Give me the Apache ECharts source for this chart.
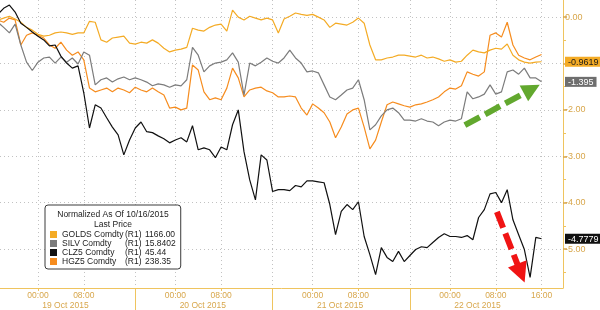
<!DOCTYPE html>
<html><head><meta charset="utf-8">
<script src="https://cdn.jsdelivr.net/npm/echarts@6/dist/echarts.min.js"></script>
<style>html,body{margin:0;padding:0;background:#fff}#c{width:600px;height:310px}</style>
</head><body><div id="c"></div>
<script>
// hours measured from 19 Oct 2015 00:00
const startHour = -7, endHour = 88;
const hours = [];
for (let h = startHour; h <= endHour; h++) hours.push(h);

const seriesNames = ['GOLDS Comdty', 'SILV Comdty', 'CLZ5 Comdty', 'HGZ5 Comdty'];
const lastPrices = ['1166.00', '15.8402', '45.44', '238.35'];

const gold = [-0.06,-0.02,0.02,-0.04,-0.11,-0.22,-0.28,-0.37,-0.41,-0.39,-0.34,-0.32,-0.34,-0.37,-0.34,-0.34,
 -0.09,-0.11,-0.49,-0.54,-0.45,-0.43,-0.41,-0.56,-0.58,-0.54,-0.56,-0.49,-0.56,-0.67,-0.75,-0.71,
 -0.69,-0.65,-0.24,-0.28,-0.30,-0.22,-0.17,-0.15,-0.30,0.15,0.00,-0.06,0.02,-0.02,-0.06,-0.02,
 -0.06,-0.34,-0.04,0.02,0.09,0.06,0.04,0.06,0.00,-0.06,-0.22,-0.13,-0.15,-0.17,-0.11,-0.02,
 -0.13,-0.60,-0.92,-0.92,-0.88,-0.86,-0.82,-0.82,-0.84,-0.86,-0.82,-0.88,-0.86,-0.90,-0.95,-0.92,
 -0.97,-0.95,-0.82,-0.71,-0.75,-0.77,-0.71,-0.67,-0.69,-0.58,-0.82,-0.92,-0.97,-0.99,-0.97,-0.9619];

const silver = [-0.11,-0.22,-0.34,-0.15,-0.60,-0.97,-1.15,-0.97,-0.88,-0.86,-0.99,-0.86,-0.97,-0.88,-1.01,-0.75,
 -0.82,-1.46,-1.35,-1.31,-1.40,-1.33,-1.29,-1.35,-1.31,-1.35,-1.40,-1.48,-1.44,-1.46,-1.51,-1.46,
 -1.48,-1.35,-0.65,-0.82,-1.18,-1.05,-0.99,-0.97,-0.92,-0.77,-0.97,-1.68,-0.99,-1.05,-0.97,-0.88,
 -0.95,-0.99,-0.88,-0.71,-0.88,-0.99,-1.18,-1.16,-1.20,-1.46,-1.72,-1.78,-1.68,-1.57,-1.53,-1.35,
 -1.78,-2.43,-2.32,-2.13,-2.00,-1.96,-2.06,-2.22,-2.22,-2.24,-2.19,-2.24,-2.26,-2.34,-2.26,-2.22,
 -2.24,-2.19,-1.61,-1.76,-1.72,-1.66,-1.46,-1.66,-1.61,-1.18,-1.14,-1.23,-1.10,-1.31,-1.31,-1.395];

const crude = [0.06,0.19,0.26,0.11,-0.13,-0.22,-0.32,-0.41,-0.49,-0.62,-0.60,-0.84,-0.99,-1.10,-1.05,-1.63,
 -2.39,-1.89,-1.96,-2.17,-2.37,-2.54,-2.97,-2.65,-2.39,-2.26,-2.47,-2.49,-2.56,-2.62,-2.71,-2.65,
 -2.60,-2.69,-2.34,-2.86,-2.82,-2.86,-3.03,-2.80,-2.86,-2.32,-2.00,-2.90,-3.51,-3.94,-2.97,-3.08,
 -3.76,-3.72,-3.72,-3.74,-3.63,-3.66,-3.53,-3.53,-3.55,-3.57,-4.04,-4.69,-4.19,-4.04,-4.15,-3.98,
 -4.73,-5.12,-5.55,-4.97,-5.18,-5.27,-5.05,-5.27,-5.14,-5.01,-4.95,-4.97,-4.86,-4.75,-4.67,-4.73,
 -4.73,-4.75,-4.71,-4.80,-4.32,-4.15,-3.81,-3.78,-4.00,-3.72,-4.37,-4.69,-5.01,-5.61,-4.75,-4.7779];

const copper = [-0.06,-0.11,-0.02,-0.06,-0.60,-0.39,-0.34,-0.39,-0.45,-0.60,-0.67,-0.54,-0.71,-0.82,-0.75,-0.92,
 -1.53,-1.61,-1.57,-1.53,-1.61,-1.53,-1.57,-1.63,-1.51,-1.57,-1.61,-1.53,-1.61,-1.68,-1.96,-1.94,
 -2.00,-1.96,-1.03,-1.14,-1.61,-1.78,-1.74,-1.78,-1.53,-1.10,-1.31,-1.72,-1.57,-1.53,-1.51,-1.59,
 -1.63,-1.72,-1.72,-1.70,-1.72,-1.96,-2.11,-1.87,-1.96,-2.06,-2.26,-2.60,-2.37,-2.09,-2.00,-1.96,
 -2.37,-2.84,-2.65,-2.26,-1.89,-1.83,-1.87,-1.91,-1.94,-1.89,-1.87,-1.83,-1.78,-1.72,-1.61,-1.53,
 -1.55,-1.48,-1.18,-1.23,-1.27,-1.18,-0.39,-0.34,-0.43,-0.11,-0.60,-0.82,-0.88,-0.92,-0.86,-0.8046];

// axis tick / label positions (hours)
const gridHours = [0, 8, 17, 24, 32, 41, 48, 56, 65, 72, 80, 88];
const timeLabelHours = [0, 8, 24, 32, 48, 56, 72, 80, 88];
const dateLabelHours = [4.8, 28.8, 52.8, 76.8];
const dateLabels = ['19 Oct 2015', '20 Oct 2015', '21 Oct 2015', '22 Oct 2015'];
const sessionBreaks = [17, 41, 65];
const yTicks = [0, -1, -2, -3, -4, -5];
const yMinor = [-0.5, -1.5, -2.5, -3.5, -4.5, -5.5];

// annotation arrows [x0, y0, x1, y1] in data units (end = arrow-head centre)
const greenArrow = [74.6, -2.33, 86.3, -1.55];
const redArrow = [80.2, -4.20, 84.4, -5.52];

const colors = { gold: '#f4ab25', silver: '#7c7c7c', crude: '#111111', copper: '#f68c1e' };
const FONT = "'Liberation Sans',Arial,sans-serif";
const X_MIN = -6.64, X_MAX = 91.75, Y_MIN = -5.84, Y_MAX = 0.37;
const AXIS_COL = '#efc45f', LABEL_COL = '#d8a74c', GRID_COL = '#c2c2c2';

const pairs = arr => hours.map((h, i) => [h, arr[i]]);
const last = arr => arr[arr.length - 1];
const lastVals = [
  { v: last(copper), key: 'cu' },
  { v: last(gold), key: 'au' },
  { v: last(silver), key: 'ag' },
  { v: last(crude), key: 'cl' }
];
const pad2 = n => (n < 10 ? '0' : '') + n;

const chart = echarts.init(document.getElementById('c'), null, { renderer: 'canvas' });
const lineSeries = (name, arr, color, extra) => Object.assign({
  name, type: 'line', data: pairs(arr), showSymbol: false, symbol: 'none',
  lineStyle: { color, width: 1.2 }, itemStyle: { color },
  xAxisIndex: 0, yAxisIndex: 0, animation: false, silent: true
}, extra || {});

const arrowMark = (a, color, size) => ({
  silent: true, animation: false, symbol: ['none', 'triangle'], symbolSize: size,
  label: { show: false }, emphasis: { disabled: true },
  lineStyle: { color, width: 6, type: [17, 6], opacity: 1, cap: 'butt' },
  itemStyle: { color },
  data: [[{ coord: [a[0], a[1]] }, { coord: [a[2], a[3]] }]]
});

const boxRich = (bg, fg) => ({ backgroundColor: bg, color: fg, padding: [1, 3, 0, 3], fontSize: 9, fontFamily: FONT, lineHeight: 11 });

chart.setOption({
  animation: false,
  textStyle: { fontFamily: FONT },
  grid: { left: 0, right: 37, top: 0, bottom: 22, containLabel: false, outerBoundsMode: 'none' },
  xAxis: [
    { type: 'value', min: X_MIN, max: X_MAX, position: 'bottom',
      axisLine: { show: true, onZero: false, lineStyle: { color: AXIS_COL, width: 1 } },
      axisTick: { show: true, customValues: gridHours, length: 3, lineStyle: { color: AXIS_COL } },
      axisLabel: { customValues: timeLabelHours, formatter: v => pad2(((v % 24) + 24) % 24) + ':00',
                   color: LABEL_COL, fontSize: 8.5, margin: 3, fontFamily: FONT },
      splitLine: { show: true, lineStyle: { color: GRID_COL, type: [1, 3], width: 1 } } },
    { type: 'value', min: X_MIN, max: X_MAX, position: 'bottom', offset: 10,
      axisLine: { show: false, onZero: false }, axisTick: { show: false }, splitLine: { show: false },
      axisLabel: { customValues: dateLabelHours, formatter: v => dateLabels[Math.floor(v / 24)],
                   color: LABEL_COL, fontSize: 8.5, margin: 3, fontFamily: FONT } },
    { type: 'value', min: X_MIN, max: X_MAX, position: 'bottom',
      axisLine: { show: false, onZero: false }, splitLine: { show: false }, axisLabel: { show: false },
      axisTick: { show: true, customValues: sessionBreaks, length: 22, lineStyle: { color: AXIS_COL, width: 1 } } }
  ],
  yAxis: [
    { type: 'value', position: 'right', min: Y_MIN, max: Y_MAX,
      axisLine: { show: true, onZero: false, lineStyle: { color: AXIS_COL, width: 1 } },
      axisTick: { show: true, customValues: yTicks, length: 4, lineStyle: { color: LABEL_COL, width: 1.5 } },
      axisLabel: { customValues: yTicks, formatter: v => (Math.abs(v) < 1e-9 ? 0 : v).toFixed(2),
                   color: LABEL_COL, fontSize: 9, margin: 2, fontFamily: FONT },
      splitLine: { show: true, lineStyle: { color: GRID_COL, type: [1, 3], width: 1 } } },
    { type: 'value', position: 'right', min: Y_MIN, max: Y_MAX, z: 10,
      axisLine: { show: false, onZero: false }, axisTick: { show: false }, splitLine: { show: false },
      axisLabel: { customValues: lastVals.map(d => d.v), margin: 2, fontFamily: FONT,
        formatter: v => { const d = lastVals.find(o => Math.abs(o.v - v) < 1e-6); return '{' + d.key + '|' + String(v) + '}'; },
        rich: { au: boxRich(colors.gold, '#1a1a1a'), cu: boxRich(colors.copper, '#1a1a1a'),
                ag: boxRich('#6e6e6e', '#ffffff'), cl: boxRich('#111111', '#ffffff') } } },
    { type: 'value', position: 'right', min: Y_MIN, max: Y_MAX,
      axisLine: { show: false, onZero: false }, splitLine: { show: false }, axisLabel: { show: false },
      axisTick: { show: true, customValues: yMinor, length: 3, lineStyle: { color: AXIS_COL } } }
  ],
  legend: {
    orient: 'vertical', left: 45, top: 205, padding: [25, 5, 3, 5], itemGap: 0,
    itemWidth: 7, itemHeight: 7, icon: 'rect', selectedMode: false,
    backgroundColor: '#ffffff', borderColor: '#3a3a3a', borderWidth: 1, borderRadius: 3,
    data: seriesNames,
    formatter: name => { const i = seriesNames.indexOf(name); return '{n|' + name + '}{r|(R1)}{v|' + lastPrices[i] + '}'; },
    textStyle: { fontFamily: FONT, fontSize: 8.5, color: '#222',
      rich: { n: { width: 63, fontSize: 8.5, lineHeight: 10, fontFamily: FONT, color: '#222' },
              r: { width: 20, fontSize: 8.5, lineHeight: 10, fontFamily: FONT, color: '#222' },
              v: { fontSize: 8.5, lineHeight: 10, fontFamily: FONT, color: '#222' } } }
  },
  graphic: [{ type: 'text', x: 113, y: 210, z: 100,
    style: { text: 'Normalized As Of 10/16/2015\nLast Price', textAlign: 'center', textVerticalAlign: 'top',
             font: '8.5px ' + FONT, fill: '#222', lineHeight: 10 } }],
  series: [
    lineSeries(seriesNames[3], copper, colors.copper),
    lineSeries(seriesNames[1], silver, colors.silver, { markLine: arrowMark(greenArrow, '#62a82e', 18) }),
    lineSeries(seriesNames[0], gold, colors.gold),
    lineSeries(seriesNames[2], crude, colors.crude, { markLine: arrowMark(redArrow, '#f01414', 20) })
  ]
});
</script></body></html>
